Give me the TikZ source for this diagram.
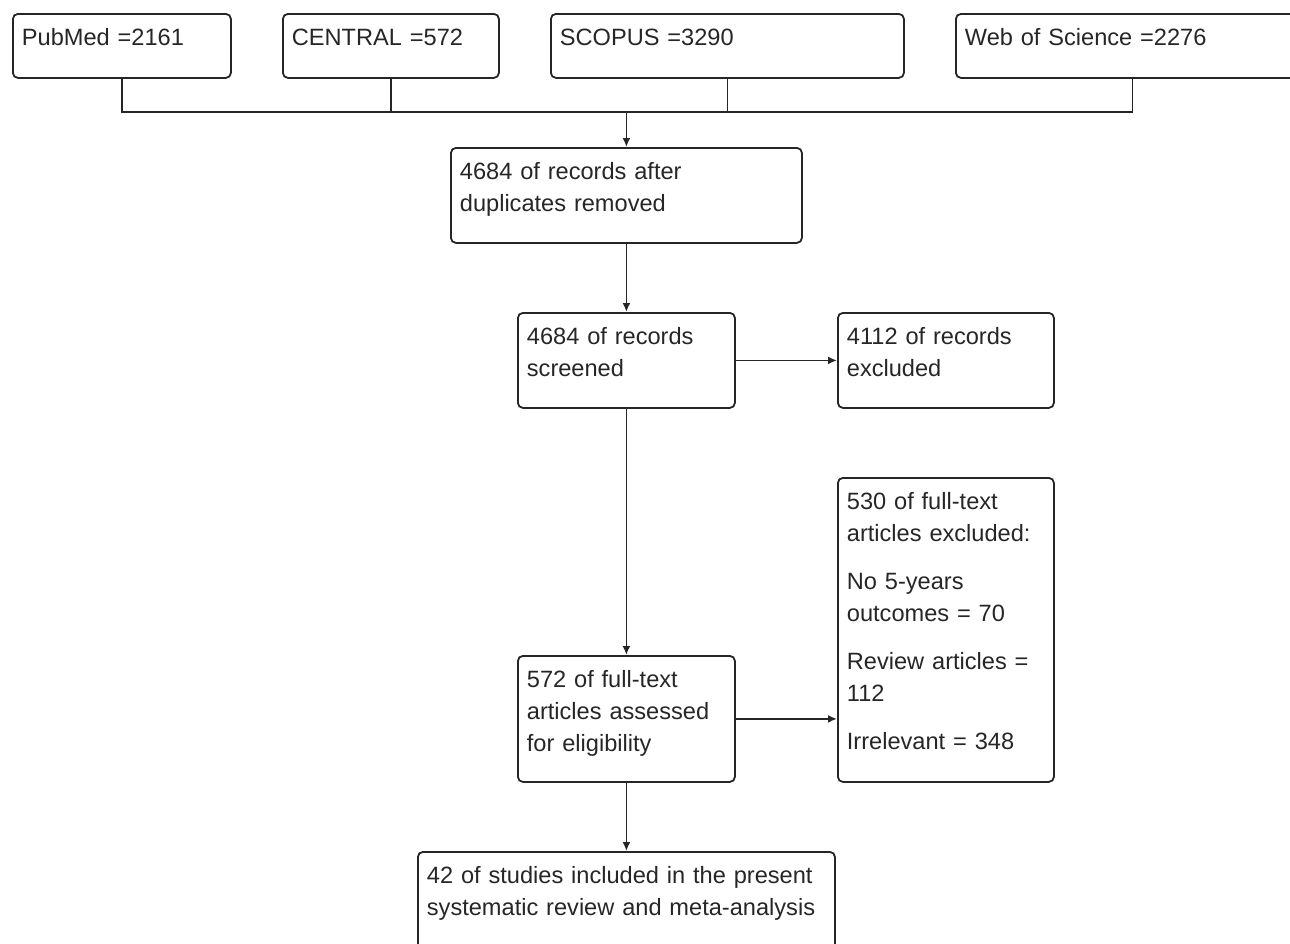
\documentclass[tikz,border=0pt]{standalone}
\usepackage{fontspec}
\setmainfont{Liberation Sans}
\usetikzlibrary{positioning, calc, arrows.meta}

\begin{document}
\begin{tikzpicture}[x=0.5pt, y=-0.5pt,
	box/.style 2 args={draw=black!85, line width=0.9pt, rounded corners=2.5pt, anchor=north west,
		align=left, inner xsep=4.5pt, inner ysep=0pt, text=black!85,
		font=\fontsize{11.8}{16}\selectfont, text height=16pt, text width=#1, text depth=#2},
	conn/.style={draw=black!85, line width=0.9pt},
	arr/.style={conn, -{Latex[length=4.5pt, width=4pt]}}]
		\useasboundingbox (0,0) rectangle (1290,943);

		\node[box={100pt}{16pt}] (PM) at (12,13) {PubMed =2161};
		\node[box={99pt}{16pt}] (CE) at (282,13) {CENTRAL =572};
		\node[box={167.5pt}{16pt}] (SC) at (550,13) {SCOPUS =3290};
		\node[box={167.5pt}{16pt}] (WS) at (955,13) {Web of Science =2276};

		\node[box={166.5pt}{31.5pt}] (DUP) at (450,147) {4684 of records after\\duplicates removed};
		\node[box={99.5pt}{31.5pt}] (SCR) at (517,312) {4684 of records\\screened};
		\node[box={99pt}{31.5pt}] (EX1) at (837,312) {4112 of records\\excluded};
		\node[box={99.5pt}{47pt}] (FT) at (517,655) {572 of full-text\\articles assessed\\for eligibility};
		\node[box={99pt}{136pt}] (EX2) at (837,477) {530 of full-text\\articles excluded:\\[8pt]No 5-years\\outcomes = 70\\[8pt]Review articles =\\112\\[8pt]Irrelevant = 348};
		\node[box={199.5pt}{39pt}] (INC) at (417,851) {42 of studies included in the present\\systematic review and meta-analysis};

		\coordinate (J) at ($(DUP.north)+(0,-35)$);
		\draw[conn] (PM.south) |- (J) -| (WS.south);
		\draw[conn] (CE.south) -- (CE.south |- J);
		\draw[conn] (SC.south) -- (SC.south |- J);
		\draw[arr] (J) -- (DUP.north);
		\draw[arr] (DUP.south) -- (SCR.north);
		\draw[arr] (SCR.east) -- (EX1.west);
		\draw[arr] (SCR.south) -- (FT.north);
		\draw[arr] (FT.east) -- (FT.east -| EX2.west);
		\draw[arr] (FT.south) -- (FT.south |- INC.north);
	\end{tikzpicture}
\end{document}
